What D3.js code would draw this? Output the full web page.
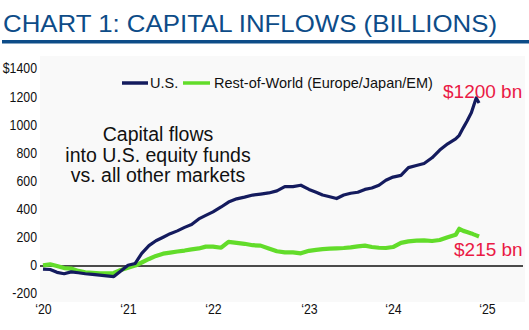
<!DOCTYPE html>
<html>
<head>
<meta charset="utf-8">
<script src="https://cdn.jsdelivr.net/npm/d3@7"></script>
<style>
  html, body { margin: 0; padding: 0; background: #fff; }
  svg { display: block; }
  text { font-family: "Liberation Sans", Arial, Helvetica, sans-serif; }
  .tick-label { font-family: "Liberation Sans", Arial, sans-serif; font-size: 14.5px; fill: #111; }
</style>
</head>
<body>
<svg id="chart" width="529" height="330"></svg>
<script>
// ---- data ----
const dates = [
  "2020-01-01","2020-02-01","2020-03-01","2020-04-01","2020-05-01","2020-06-01","2020-07-01","2020-08-01","2020-09-01","2020-10-01","2020-11-01","2020-12-01",
  "2021-01-01","2021-02-01","2021-03-01","2021-04-01","2021-05-01","2021-06-01","2021-07-01","2021-08-01","2021-09-01","2021-10-01","2021-11-01","2021-12-01",
  "2022-01-01","2022-02-01","2022-03-01","2022-04-01","2022-05-01","2022-06-01","2022-07-01","2022-08-01","2022-09-01","2022-10-01","2022-11-01","2022-12-01",
  "2023-01-01","2023-02-01","2023-03-01","2023-04-01","2023-05-01","2023-06-01","2023-07-01","2023-08-01","2023-09-01","2023-10-01","2023-11-01","2023-12-01",
  "2024-01-01","2024-02-01","2024-03-01","2024-04-01","2024-05-01","2024-06-01","2024-07-01","2024-08-01","2024-09-01",
  "2024-09-15","2024-10-01","2024-10-15","2024-11-01","2024-11-10","2024-11-20","2024-12-01"
];
const usFlows = [
  -22,-25,-45,-55,-42,-48,-55,-60,-65,-70,-75,-35,
  5,18,90,145,180,205,230,250,275,295,335,360,
  385,420,455,478,490,505,512,520,535,565,565,575,
  545,525,505,493,480,505,518,525,545,555,575,610,
  633,645,700,715,730,770,825,870,905,
  930,985,1030,1090,1140,1196,1160
];
const rowFlows = [
  5,12,0,-15,-18,-35,-45,-48,-52,-52,-50,-28,
  -12,3,25,50,72,88,95,103,110,118,125,138,
  138,130,172,165,158,148,145,125,105,97,97,90,
  108,115,120,123,126,128,133,140,145,135,130,128,
  135,165,175,180,182,178,185,205,222,
  265,250,242,232,225,218,210
];
const yTicks = [-200, 0, 200, 400, 600, 800, 1000, 1200, 1400];
const yTickLabels = ["-200","0","200","400","600","800","1000","1200","$1400"];
const xTickDates = ["2020-01-01","2021-01-01","2022-01-01","2023-01-01","2024-01-01","2025-01-01"];
const xTickLabels = ["\u201820","\u201821","\u201822","\u201823","\u201824","\u201825"];
const seriesNames = ["U.S.", "Rest-of-World (Europe/Japan/EM)"];
const endLabels = ["$1200 bn", "$215 bn"];
const titleText = "CHART 1: CAPITAL INFLOWS (BILLIONS)";
const noteLines = ["Capital flows", "into U.S. equity funds", "vs. all other markets"];

// ---- setup ----
const parse = d3.timeParse("%Y-%m-%d");
const svg = d3.select("#chart");
const navy = "#141b5e", green = "#62dc2a", red = "#ea1a45", titleBlue = "#0d4c88";

const x = d3.scaleTime()
  .domain(xTickDates.map(parse))
  .range([43, 128, 213, 309, 393, 487]);
const y = d3.scaleLinear().domain([-200, 1400]).range([294.1, 69.3]);

// title
svg.append("text").attr("x", 3).attr("y", 32)
  .attr("font-size", 24).attr("fill", titleBlue)
  .attr("textLength", 494).attr("lengthAdjust", "spacingAndGlyphs")
  .text(titleText);
svg.append("rect").attr("x", 2).attr("y", 40).attr("width", 527).attr("height", 3.5).attr("fill", titleBlue);

// plot background
svg.append("rect").attr("x", 40).attr("y", 56).attr("width", 485).attr("height", 246).attr("fill", "#f9f9f9");

// y axis labels
const yAxis = d3.axisLeft(y).tickValues(yTicks).tickSize(0).tickPadding(0)
  .tickFormat((d, i) => yTickLabels[i]);
const yg = svg.append("g").attr("transform", "translate(37,-1)").call(yAxis);
yg.select(".domain").remove();
yg.selectAll("text").attr("class", "tick-label").attr("font-size", null).attr("font-family", null)
  .attr("fill", null).attr("transform", "scale(0.85,1)");

// x axis labels
const xAxis = d3.axisBottom(x).tickValues(xTickDates.map(parse)).tickSize(0).tickPadding(0)
  .tickFormat((d, i) => xTickLabels[i]);
const xg = svg.append("g").attr("transform", "translate(0,304)").call(xAxis);
xg.select(".domain").remove();
xg.selectAll("text").attr("class", "tick-label").attr("font-size", null).attr("font-family", null)
  .attr("fill", null).attr("transform", "scale(0.85,1)");

// zero line
svg.append("line").attr("x1", 40).attr("x2", 523).attr("y1", y(0)).attr("y2", y(0))
  .attr("stroke", "#111").attr("stroke-width", 1.5);

// lines
const parsedDates = dates.map(parse);
const line = d3.line().x((d, i) => x(parsedDates[i])).y(d => y(d));
svg.append("path").datum(rowFlows).attr("d", line)
  .attr("fill", "none").attr("stroke", green).attr("stroke-width", 4.2).attr("stroke-linejoin", "round");
svg.append("path").datum(usFlows).attr("d", line)
  .attr("fill", "none").attr("stroke", navy).attr("stroke-width", 3.2).attr("stroke-linejoin", "round");

// legend
const leg = svg.append("g");
leg.append("line").attr("x1", 122).attr("x2", 148).attr("y1", 83).attr("y2", 83).attr("stroke", navy).attr("stroke-width", 3.5);
leg.append("text").attr("x", 150).attr("y", 88).attr("font-size", 14.5).attr("fill", "#111").text(seriesNames[0]);
leg.append("line").attr("x1", 183).attr("x2", 210).attr("y1", 83).attr("y2", 83).attr("stroke", green).attr("stroke-width", 3.5);
leg.append("text").attr("x", 214).attr("y", 88).attr("font-size", 14.5).attr("fill", "#111").text(seriesNames[1]);

// annotation
svg.append("g").selectAll("text").data(noteLines).join("text")
  .attr("x", 158).attr("y", (d, i) => 141 + i * 20.5)
  .attr("text-anchor", "middle").attr("font-size", 19.5).attr("fill", "#111")
  .text(d => d);

// end labels
svg.append("text").attr("x", 443).attr("y", 97.5).attr("font-size", 19).attr("fill", red).text(endLabels[0]);
svg.append("text").attr("x", 454).attr("y", 256).attr("font-size", 19).attr("fill", red).text(endLabels[1]);
</script>
</body>
</html>
